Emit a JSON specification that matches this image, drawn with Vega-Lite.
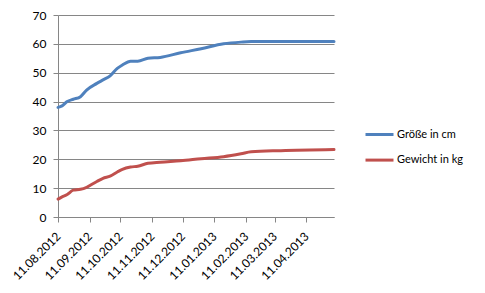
{
  "$schema": "https://vega.github.io/schema/vega-lite/v6.json",
  "width": 276,
  "height": 202,
  "autosize": {"type": "none"},
  "padding": {"left": 58, "top": 15, "right": 151, "bottom": 76},
  "background": "white",
  "config": {
    "view": {"stroke": null},
    "font": "Lato",
    "axis": {"labelFont": "Lato", "labelFontSize": 11, "labelColor": "#000000", "domainColor": "#868686", "tickColor": "#868686", "gridColor": "#868686", "tickSize": 5, "title": null},
    "legend": {"labelFont": "Lato", "labelFontSize": 11, "labelColor": "#000000"}
  },
  "data": {
    "values": [
      {"date": "2012-08-11T00:00:00", "series": "Größe in cm", "value": 38.0},
      {"date": "2012-08-15T00:00:00", "series": "Größe in cm", "value": 38.5},
      {"date": "2012-08-20T00:00:00", "series": "Größe in cm", "value": 40.0},
      {"date": "2012-08-26T00:00:00", "series": "Größe in cm", "value": 40.8},
      {"date": "2012-09-02T00:00:00", "series": "Größe in cm", "value": 41.7},
      {"date": "2012-09-08T00:00:00", "series": "Größe in cm", "value": 44.0},
      {"date": "2012-09-18T00:00:00", "series": "Größe in cm", "value": 46.3},
      {"date": "2012-09-24T00:00:00", "series": "Größe in cm", "value": 47.5},
      {"date": "2012-10-01T00:00:00", "series": "Größe in cm", "value": 48.9},
      {"date": "2012-10-08T00:00:00", "series": "Größe in cm", "value": 51.5},
      {"date": "2012-10-13T00:00:00", "series": "Größe in cm", "value": 52.7},
      {"date": "2012-10-21T00:00:00", "series": "Größe in cm", "value": 54.0},
      {"date": "2012-10-28T00:00:00", "series": "Größe in cm", "value": 54.0},
      {"date": "2012-11-07T00:00:00", "series": "Größe in cm", "value": 55.0},
      {"date": "2012-11-19T00:00:00", "series": "Größe in cm", "value": 55.3},
      {"date": "2012-12-09T00:00:00", "series": "Größe in cm", "value": 56.9},
      {"date": "2012-12-29T00:00:00", "series": "Größe in cm", "value": 58.3},
      {"date": "2013-01-20T00:00:00", "series": "Größe in cm", "value": 60.0},
      {"date": "2013-02-06T00:00:00", "series": "Größe in cm", "value": 60.6},
      {"date": "2013-02-16T00:00:00", "series": "Größe in cm", "value": 60.8},
      {"date": "2013-03-17T00:00:00", "series": "Größe in cm", "value": 60.8},
      {"date": "2013-05-08T00:00:00", "series": "Größe in cm", "value": 60.8},
      {"date": "2012-08-11T00:00:00", "series": "Gewicht in kg", "value": 6.2},
      {"date": "2012-08-15T00:00:00", "series": "Gewicht in kg", "value": 7.0},
      {"date": "2012-08-20T00:00:00", "series": "Gewicht in kg", "value": 7.8},
      {"date": "2012-08-26T00:00:00", "series": "Gewicht in kg", "value": 9.3},
      {"date": "2012-09-02T00:00:00", "series": "Gewicht in kg", "value": 9.6},
      {"date": "2012-09-08T00:00:00", "series": "Gewicht in kg", "value": 10.3},
      {"date": "2012-09-18T00:00:00", "series": "Gewicht in kg", "value": 12.3},
      {"date": "2012-09-24T00:00:00", "series": "Gewicht in kg", "value": 13.4},
      {"date": "2012-10-01T00:00:00", "series": "Gewicht in kg", "value": 14.2},
      {"date": "2012-10-08T00:00:00", "series": "Gewicht in kg", "value": 15.6},
      {"date": "2012-10-13T00:00:00", "series": "Gewicht in kg", "value": 16.5},
      {"date": "2012-10-21T00:00:00", "series": "Gewicht in kg", "value": 17.3},
      {"date": "2012-10-28T00:00:00", "series": "Gewicht in kg", "value": 17.6},
      {"date": "2012-11-07T00:00:00", "series": "Gewicht in kg", "value": 18.6},
      {"date": "2012-11-19T00:00:00", "series": "Gewicht in kg", "value": 19.0},
      {"date": "2012-12-09T00:00:00", "series": "Gewicht in kg", "value": 19.5},
      {"date": "2012-12-29T00:00:00", "series": "Gewicht in kg", "value": 20.2},
      {"date": "2013-01-20T00:00:00", "series": "Gewicht in kg", "value": 20.9},
      {"date": "2013-02-06T00:00:00", "series": "Gewicht in kg", "value": 21.9},
      {"date": "2013-02-16T00:00:00", "series": "Gewicht in kg", "value": 22.6},
      {"date": "2013-03-17T00:00:00", "series": "Gewicht in kg", "value": 23.0},
      {"date": "2013-05-08T00:00:00", "series": "Gewicht in kg", "value": 23.4}
    ]
  },
  "mark": {"type": "line", "strokeWidth": 3, "interpolate": "monotone", "strokeJoin": "round", "strokeCap": "round"},
  "encoding": {
    "x": {
      "field": "date",
      "type": "temporal",
      "scale": {"domain": [{"year": 2012, "month": 8, "date": 11}, {"year": 2013, "month": 5, "date": 8}]},
      "axis": {
        "grid": false,
        "format": "%d.%m.%Y",
        "labelAngle": -45,
        "labelAlign": "right",
        "labelBaseline": "middle",
        "labelPadding": 12,
        "labelFontSize": 12,
        "labelOverlap": false,
        "labelBound": false,
        "values": [
          {"year": 2012, "month": 8, "date": 11},
          {"year": 2012, "month": 9, "date": 11},
          {"year": 2012, "month": 10, "date": 11},
          {"year": 2012, "month": 11, "date": 11},
          {"year": 2012, "month": 12, "date": 11},
          {"year": 2013, "month": 1, "date": 11},
          {"year": 2013, "month": 2, "date": 11},
          {"year": 2013, "month": 3, "date": 11},
          {"year": 2013, "month": 4, "date": 11}
        ]
      }
    },
    "y": {
      "field": "value",
      "type": "quantitative",
      "scale": {"domain": [0, 70]},
      "axis": {"values": [0, 10, 20, 30, 40, 50, 60, 70], "grid": true, "labelPadding": 7, "labelFontSize": 12, "labelOverlap": false}
    },
    "color": {
      "field": "series",
      "type": "nominal",
      "scale": {"domain": ["Größe in cm", "Gewicht in kg"], "range": ["#4F81BD", "#C0504D"]},
      "legend": {
        "title": null,
        "orient": "none",
        "legendX": 306,
        "legendY": 111,
        "padding": 0,
        "symbolType": "M-1,0H3",
        "symbolSize": 196,
        "symbolStrokeWidth": 3,
        "labelOffset": 16,
        "rowPadding": 10.6
      }
    }
  }
}
